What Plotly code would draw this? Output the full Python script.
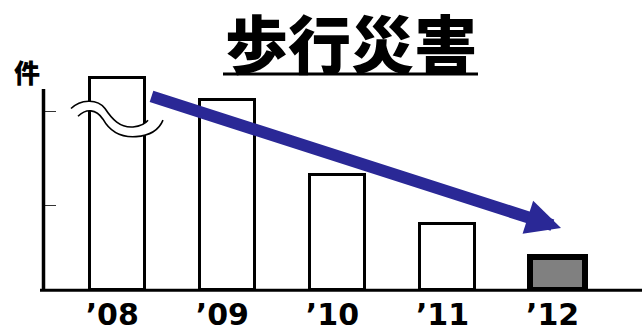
import plotly.graph_objects as go

# ---- data ----
years = ["’08", "’09", "’10", "’11", "’12"]
values = [218, 196, 119, 68, 34]
fill_colors = ["white", "white", "white", "white", "#808080"]
line_widths = [3, 3, 3, 3, 6]
y_ticks = [87, 184]
title_text = "歩行災害"
unit_label = "件"

# ---- layout geometry (pixels) ----
W, H = 642, 332
ML, MR, MT, MB = 44, 0, 60, 35
PW, PH = W - ML - MR, H - MT - MB
Y_TOP = PH  # y range so that 1 unit = 1 px

def px_x(px):
    return (px - ML) / PW

def px_y(py):
    return (H - MB - py) / PH

x_positions = list(range(len(years)))
c0, step = 117.2, 110.1
x_range = [(ML - c0) / step, (W - MR - c0) / step]
label_shift = -0.045

def dx(px):
    return (px - c0) / step

fig = go.Figure()
fig.add_trace(go.Bar(
    x=x_positions, y=values, width=0.5,
    marker=dict(color=fill_colors, line=dict(color="black", width=line_widths)),
    showlegend=False, hoverinfo="skip",
))

fig.update_layout(
    width=W, height=H,
    margin=dict(l=ML, r=MR, t=MT, b=MB),
    paper_bgcolor="white", plot_bgcolor="white",
    bargap=0,
    xaxis=dict(range=x_range, tickvals=[p + label_shift for p in x_positions], ticktext=years,
               showline=False, showgrid=False, zeroline=False, ticks="",
               ticklabelstandoff=4,
               tickfont=dict(family="DejaVu Sans", size=30, color="black", weight="bold")),
    yaxis=dict(range=[0, Y_TOP], tickvals=y_ticks, showticklabels=False,
               ticks="inside", ticklen=12, tickwidth=1, tickcolor="#333",
               showline=False, showgrid=False, zeroline=False),
)

shapes = []
# y axis line
shapes.append(dict(type="line", xref="paper", yref="paper", x0=px_x(43.5), x1=px_x(43.5),
                   y0=px_y(297.5), y1=px_y(90), line=dict(color="black", width=3.5)))
# x axis line
shapes.append(dict(type="line", xref="paper", yref="paper", x0=px_x(40), x1=1,
                   y0=px_y(297.3), y1=px_y(297.3), line=dict(color="black", width=3)))
# title underline
shapes.append(dict(type="line", xref="paper", yref="paper", x0=px_x(223), x1=px_x(478),
                   y0=px_y(74.5), y1=px_y(74.5), line=dict(color="black", width=3)))

# axis break symbol (decoration), pixel coordinates converted to paper
def P(x, y):
    return f"{px_x(x):.5f},{px_y(y):.5f}"

upper = [(71, 110), (80, 101), (97, 99), (105, 110), (112, 121), (120, 130), (133, 129),
         (141, 128), (145, 126), (148, 122)]
lower = [(78, 118), (86, 110), (96, 110), (103, 121), (110, 134), (122, 140), (136, 139),
         (150, 138), (159, 132), (163, 122)]

def bez(pts):
    s = "M" + P(*pts[0])
    for i in range(1, len(pts), 3):
        s += " C" + P(*pts[i]) + " " + P(*pts[i + 1]) + " " + P(*pts[i + 2])
    return s

lower_rev = list(reversed(lower))
fill_path = bez(upper) + " L" + P(*lower_rev[0])
for i in range(1, len(lower_rev), 3):
    fill_path += " C" + P(*lower_rev[i]) + " " + P(*lower_rev[i + 1]) + " " + P(*lower_rev[i + 2])
fill_path += " Z"
shapes.append(dict(type="path", xref="paper", yref="paper", path=fill_path,
                   fillcolor="white", line=dict(width=0)))
shapes.append(dict(type="path", xref="paper", yref="paper", path=bez(upper),
                   line=dict(color="black", width=1.6)))
shapes.append(dict(type="path", xref="paper", yref="paper", path=bez(lower),
                   line=dict(color="black", width=1.6)))
fig.update_layout(shapes=shapes)

# trend arrow
fig.add_annotation(x=dx(561), y=297 - 233, ax=dx(150), ay=297 - 97,
                   xref="x", yref="y", axref="x", ayref="y",
                   text="", showarrow=True, arrowhead=2, arrowsize=0.58, arrowwidth=12,
                   arrowcolor="#2A2896", standoff=0, startstandoff=0)

# title
fig.add_annotation(x=px_x(351), y=px_y(40), xref="paper", yref="paper",
                   text=title_text, showarrow=False, xanchor="center", yanchor="middle",
                   font=dict(family="Noto Sans CJK JP", size=63, color="black", weight=900))
# unit label
fig.add_annotation(x=px_x(27), y=px_y(72), xref="paper", yref="paper",
                   text=unit_label, showarrow=False, xanchor="center", yanchor="middle",
                   font=dict(family="Noto Sans CJK JP", size=26, color="black", weight=900))

fig.write_html("out.html")
